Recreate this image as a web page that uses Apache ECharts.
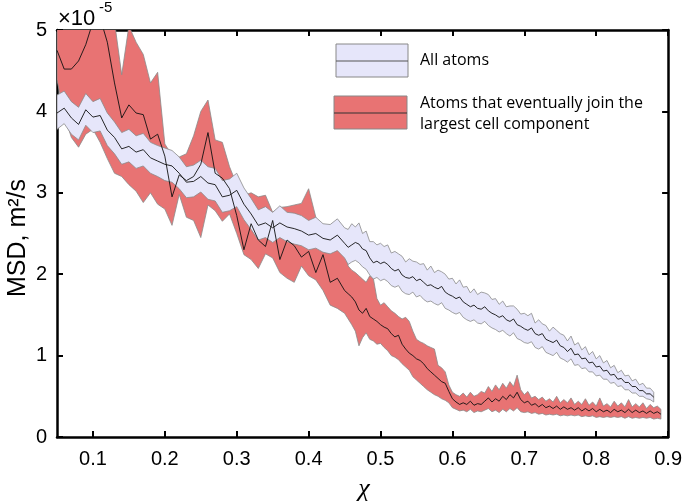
<!DOCTYPE html>
<html><head><meta charset="utf-8">
<script src="https://cdn.jsdelivr.net/npm/echarts@6/dist/echarts.min.js"></script>
<style>html,body{margin:0;padding:0;background:#fff}#c{width:685px;height:503px}</style>
</head><body><div id="c"></div>
<script>
// x positions (chi)
const xs = [
0.05,0.06,0.07,0.08,0.09,0.10,0.11,0.12,0.13,0.14,
0.15,0.16,0.17,0.18,0.19,0.20,0.21,0.22,0.23,0.24,
0.25,0.26,0.27,0.28,0.29,0.30,0.31,0.32,0.33,0.34,
0.35,0.36,0.37,0.38,0.39,0.40,0.41,0.42,0.43,0.44,
0.45,
0.455,0.46,0.465,0.47,0.475,0.48,0.485,0.49,0.495,0.50,
0.505,0.51,0.515,0.52,0.525,0.53,0.535,0.54,0.545,0.55,
0.555,0.56,0.565,0.57,0.575,0.58,0.585,0.59,0.595,0.60,
0.605,0.61,0.615,0.62,0.625,0.63,0.635,0.64,0.645,0.65,
0.655,0.66,0.665,0.67,0.675,0.68,0.685,0.69,0.695,0.70,
0.705,0.71,0.715,0.72,0.725,0.73,0.735,0.74,0.745,0.75,
0.755,0.76,0.765,0.77,0.775,0.78,0.785,0.79,0.795,0.80,
0.805,0.81,0.815,0.82,0.825,0.83,0.835,0.84,0.845,0.85,
0.855,0.86,0.865,0.87,0.875,0.88,0.885,0.89];

// All atoms (MSD x1e-5)
const allMean = [
3.98,4.04,3.92,3.84,4.02,3.93,3.95,3.77,3.68,3.54,
3.57,3.50,3.53,3.43,3.39,3.35,3.33,3.24,3.13,3.14,
3.20,3.12,3.10,2.95,2.97,3.03,2.86,2.74,2.60,2.63,
2.57,2.63,2.58,2.56,2.53,2.48,2.50,2.44,2.42,2.48,
2.38,
2.33,2.36,2.39,2.37,2.31,2.29,2.20,2.14,2.16,2.13,
2.15,2.12,2.07,2.04,2.06,1.99,1.96,1.95,1.97,1.92,
1.94,1.90,1.86,1.87,1.84,1.82,1.85,1.78,1.75,1.73,
1.70,1.72,1.66,1.63,1.60,1.62,1.58,1.57,1.60,1.55,
1.52,1.50,1.47,1.49,1.44,1.42,1.45,1.38,1.36,1.33,
1.31,1.34,1.27,1.25,1.27,1.20,1.18,1.16,1.19,1.12,
1.10,1.05,1.09,1.01,1.02,0.96,0.97,0.91,0.92,0.86,
0.87,0.81,0.82,0.76,0.77,0.71,0.72,0.67,0.67,0.62,
0.62,0.57,0.57,0.53,0.53,0.49];
const allHi = [
4.20,4.25,4.12,4.05,4.22,4.12,4.16,3.98,3.87,3.74,
3.78,3.70,3.73,3.62,3.58,3.55,3.52,3.44,3.32,3.34,
3.40,3.32,3.30,3.15,3.17,3.24,3.06,2.93,2.79,2.83,
2.76,2.84,2.76,2.75,2.72,2.66,2.70,2.62,2.61,2.68,
2.57,
2.55,2.62,2.58,2.63,2.50,2.53,2.40,2.40,2.36,2.38,
2.34,2.36,2.26,2.28,2.25,2.22,2.15,2.19,2.16,2.15,
2.12,2.13,2.05,2.10,2.02,2.05,2.03,2.00,1.94,1.95,
1.88,1.93,1.84,1.85,1.77,1.82,1.75,1.78,1.77,1.75,
1.69,1.70,1.63,1.67,1.60,1.61,1.61,1.57,1.51,1.52,
1.49,1.52,1.40,1.44,1.39,1.37,1.30,1.35,1.31,1.27,
1.25,1.18,1.24,1.13,1.16,1.07,1.11,1.01,1.05,0.96,
1.00,0.91,0.94,0.85,0.88,0.79,0.82,0.75,0.76,0.69,
0.71,0.64,0.66,0.60,0.60,0.55];
const allLo = [
3.78,3.85,3.72,3.65,3.83,3.74,3.76,3.58,3.48,3.35,
3.38,3.30,3.33,3.24,3.20,3.15,3.13,3.05,2.94,2.95,
3.01,2.92,2.90,2.76,2.78,2.83,2.67,2.55,2.42,2.45,
2.39,2.45,2.40,2.37,2.35,2.30,2.32,2.27,2.25,2.29,
2.20,
2.12,2.15,2.17,2.14,2.09,2.06,1.99,1.94,1.96,1.92,
1.94,1.91,1.86,1.84,1.86,1.79,1.76,1.75,1.78,1.72,
1.74,1.69,1.66,1.67,1.64,1.62,1.65,1.58,1.56,1.53,
1.51,1.53,1.47,1.44,1.42,1.44,1.40,1.39,1.42,1.37,
1.34,1.32,1.29,1.31,1.27,1.24,1.28,1.21,1.19,1.16,
1.15,1.17,1.10,1.08,1.11,1.04,1.02,1.00,1.04,0.97,
0.95,0.92,0.96,0.88,0.89,0.84,0.85,0.80,0.80,0.75,
0.76,0.71,0.71,0.66,0.67,0.62,0.63,0.58,0.58,0.54,
0.54,0.50,0.50,0.47,0.46,0.43];

// Atoms that eventually join the largest cell component
const joinMean = [
4.75,4.52,4.52,4.62,4.82,5.10,5.15,4.85,4.35,3.92,
4.08,3.98,3.96,3.66,3.72,3.45,2.95,3.22,3.15,3.20,
3.35,3.74,3.24,3.18,3.05,2.72,2.30,2.62,2.42,2.34,
2.66,2.18,2.42,2.35,2.21,2.28,2.02,2.24,1.90,1.95,
1.80,
1.76,1.72,1.66,1.56,1.52,1.58,1.48,1.45,1.42,1.38,
1.35,1.33,1.27,1.23,1.25,1.14,1.08,1.03,1.00,0.96,
0.94,0.90,0.84,0.80,0.76,0.72,0.68,0.66,0.56,0.47,
0.43,0.40,0.42,0.40,0.44,0.39,0.41,0.40,0.44,0.48,
0.43,0.47,0.44,0.50,0.46,0.52,0.48,0.55,0.46,0.42,
0.44,0.39,0.41,0.37,0.40,0.36,0.38,0.35,0.38,0.34,
0.37,0.34,0.36,0.33,0.36,0.32,0.35,0.32,0.35,0.31,
0.34,0.31,0.33,0.30,0.34,0.31,0.33,0.30,0.34,0.30,
0.33,0.30,0.32,0.29,0.32,0.29,0.31,0.28];
const joinHi = [
5.60,5.50,5.60,5.50,5.40,5.50,5.50,5.30,5.10,4.45,
5.05,4.85,4.70,4.35,4.48,3.60,3.46,3.44,3.48,3.70,
4.00,4.14,3.65,3.62,3.32,3.10,2.97,3.00,2.95,2.97,
2.76,2.82,2.83,2.85,2.87,3.05,2.70,2.50,2.40,2.35,
2.28,
2.10,2.05,2.02,1.98,1.94,1.90,1.98,1.95,1.70,1.62,
1.65,1.60,1.55,1.52,1.48,1.45,1.47,1.42,1.30,1.20,
1.17,1.15,1.12,1.10,1.08,0.88,0.85,0.80,0.64,0.55,
0.52,0.50,0.54,0.49,0.55,0.50,0.52,0.56,0.54,0.62,
0.56,0.64,0.58,0.66,0.60,0.68,0.62,0.76,0.58,0.52,
0.56,0.48,0.50,0.46,0.49,0.44,0.47,0.43,0.50,0.42,
0.46,0.42,0.48,0.40,0.44,0.40,0.47,0.39,0.43,0.38,
0.48,0.38,0.41,0.37,0.44,0.38,0.42,0.37,0.46,0.37,
0.41,0.37,0.42,0.35,0.40,0.36,0.38,0.34];
const joinLo = [
4.39,3.95,3.68,3.56,3.72,3.78,3.62,3.42,3.24,3.20,
3.10,3.02,2.88,3.00,2.86,2.80,2.60,2.98,2.70,2.66,
2.45,2.85,2.78,2.65,2.74,2.50,2.24,2.18,2.07,2.25,
2.20,2.02,1.95,1.90,2.10,1.98,1.93,1.80,1.62,1.58,
1.52,
1.45,1.38,1.30,1.12,1.22,1.28,1.20,1.18,1.14,1.15,
1.10,1.06,1.00,0.98,0.95,0.90,0.86,0.82,0.74,0.70,
0.66,0.62,0.58,0.55,0.52,0.50,0.47,0.45,0.42,0.36,
0.34,0.32,0.33,0.31,0.34,0.30,0.32,0.31,0.33,0.35,
0.31,0.33,0.30,0.34,0.31,0.35,0.32,0.36,0.31,0.30,
0.31,0.29,0.30,0.28,0.29,0.27,0.28,0.27,0.28,0.26,
0.27,0.26,0.27,0.26,0.27,0.25,0.26,0.25,0.26,0.24,
0.25,0.24,0.25,0.24,0.25,0.24,0.25,0.23,0.25,0.23,
0.24,0.23,0.24,0.23,0.24,0.22,0.23,0.22];

const xTicks = [0.1,0.2,0.3,0.4,0.5,0.6,0.7,0.8,0.9];
const yTicks = [0,1,2,3,4,5];
const legendLabels = ['All atoms', 'Atoms that eventually join the', 'largest cell component'];

const pairs = (ys) => ys.map((v, i) => [xs[i], v]);
const bandData = (lo, hi) => lo.map((v, i) => [xs[i], v, hi[i]]);

const LAV = '#E6E6FA', RED = '#E87373', EDGE = '#8a8a8a';
const FONT = '"Liberation Sans", Arial, sans-serif';
const LFONT = '"Open Sans", sans-serif';

const meanLine = { color: '#111', width: 0.9 };

// band polygon drawn through the axes' own scales (api.coord)
function bandSeries(name, lo, hi, fill, z) {
  const n = lo.length;
  return {
    name, type: 'custom', data: bandData(lo, hi), clip: true, silent: true, z,
    encode: { x: 0, y: [1, 2] },
    renderItem: function (params, api) {
      if (params.dataIndex !== 0) return null;
      const top = [], bot = [];
      for (let i = 0; i < n; i++) {
        top.push(api.coord([xs[i], hi[i]]));
        bot.push(api.coord([xs[i], lo[i]]));
      }
      const pts = top.concat(bot.reverse());
      return { type: 'polygon', shape: { points: pts },
        style: { fill: fill, stroke: EDGE, lineWidth: 0.8, lineJoin: 'round' } };
    }
  };
}

const chart = echarts.init(document.getElementById('c'), null, { renderer: 'canvas' });
const axisLineStyle = { color: '#000', width: 2.5 };
const tickStyle = { color: '#000', width: 2 };

chart.setOption({
  animation: false,
  backgroundColor: '#fff',
  grid: { left: 57, right: 15, top: 30, bottom: 66, containLabel: false },
  xAxis: [
    { type: 'value', min: 0.05, max: 0.9, position: 'bottom',
      axisLine: { show: true, onZero: false, lineStyle: axisLineStyle },
      axisTick: { show: true, inside: true, length: 6, lineStyle: tickStyle, customValues: xTicks },
      axisLabel: { show: true, customValues: xTicks, margin: 12, color: '#000',
        fontFamily: FONT, fontSize: 20, formatter: v => String(v) },
      splitLine: { show: false } },
    { type: 'value', min: 0.05, max: 0.9, position: 'top',
      axisLine: { show: true, onZero: false, lineStyle: axisLineStyle },
      axisTick: { show: true, inside: true, length: 6, lineStyle: tickStyle, customValues: xTicks },
      axisLabel: { show: false }, splitLine: { show: false } }
  ],
  yAxis: [
    { type: 'value', min: 0, max: 5, interval: 1, position: 'left',
      axisLine: { show: true, onZero: false, lineStyle: axisLineStyle },
      axisTick: { show: true, inside: true, length: 6, lineStyle: tickStyle },
      axisLabel: { show: true, margin: 10, color: '#000', fontFamily: FONT, fontSize: 20 },
      splitLine: { show: false } },
    { type: 'value', min: 0, max: 5, interval: 1, position: 'right',
      axisLine: { show: true, onZero: false, lineStyle: axisLineStyle },
      axisTick: { show: true, inside: true, length: 6, lineStyle: tickStyle },
      axisLabel: { show: false }, splitLine: { show: false } }
  ],
  series: [
    bandSeries('joinBand', joinLo, joinHi, RED, 2),
    bandSeries('allBand', allLo, allHi, LAV, 3),
    { name: 'joinMean', type: 'line', data: pairs(joinMean), symbol: 'none',
      lineStyle: meanLine, silent: true, z: 4 },
    { name: 'allMean', type: 'line', data: pairs(allMean), symbol: 'none',
      lineStyle: meanLine, silent: true, z: 4 }
  ],
  graphic: [
    { type: 'text', x: 58, y: 19, style: { text: '×10', font: '22px ' + FONT, fill: '#000', align: 'left', verticalAlign: 'middle' } },
    { type: 'text', x: 99, y: 8, style: { text: '-5', font: '15px ' + FONT, fill: '#000', align: 'left', verticalAlign: 'middle' } },
    { type: 'text', x: 18, y: 238, rotation: Math.PI / 2,
      style: { text: 'MSD, m²/s', font: '25px ' + FONT, fill: '#000', align: 'center', verticalAlign: 'middle' } },
    { type: 'text', x: 364, y: 489,
      style: { text: 'χ', font: 'italic 26px "Liberation Serif", serif', fill: '#000', align: 'center', verticalAlign: 'middle' } },
    { type: 'rect', shape: { x: 336, y: 44, width: 72, height: 33 }, style: { fill: LAV, stroke: '#888', lineWidth: 1 }, z: 10 },
    { type: 'line', shape: { x1: 336, y1: 61, x2: 408, y2: 61 }, style: { stroke: '#555', lineWidth: 1 }, z: 11 },
    { type: 'text', x: 420, y: 60, style: { text: legendLabels[0], font: '16px ' + LFONT, fill: '#000', align: 'left', verticalAlign: 'middle' }, z: 11 },
    { type: 'rect', shape: { x: 334, y: 96, width: 73, height: 33 }, style: { fill: RED, stroke: '#888', lineWidth: 1 }, z: 10 },
    { type: 'line', shape: { x1: 334, y1: 113, x2: 407, y2: 113 }, style: { stroke: '#333', lineWidth: 1 }, z: 11 },
    { type: 'text', x: 420, y: 103, style: { text: legendLabels[1], font: '16px ' + LFONT, fill: '#000', align: 'left', verticalAlign: 'middle' }, z: 11 },
    { type: 'text', x: 420, y: 124, style: { text: legendLabels[2], font: '16px ' + LFONT, fill: '#000', align: 'left', verticalAlign: 'middle' }, z: 11 }
  ]
});
</script>
</body></html>
